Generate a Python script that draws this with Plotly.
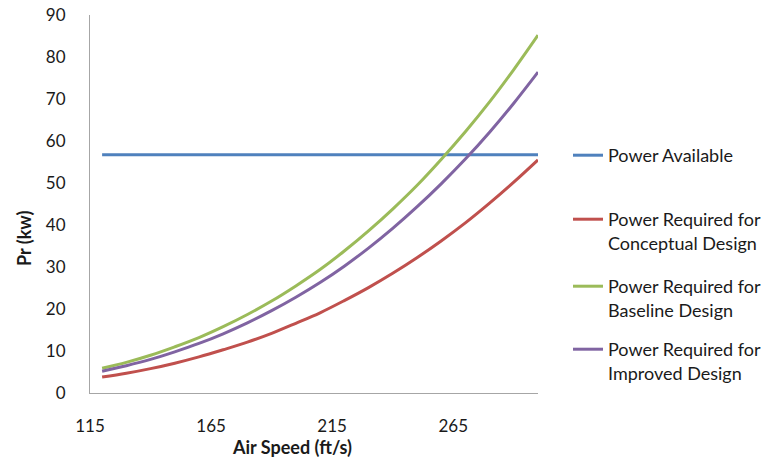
import plotly.graph_objects as go

# Data
air_speed = [120, 130, 140, 150, 160, 170, 180, 190, 200, 210,
             220, 230, 240, 250, 260, 270, 280, 290, 300]
power_available = [56.7] * len(air_speed)
pr_conceptual = [3.8, 4.7, 5.8, 7.1, 8.6, 10.3, 12.1, 14.2, 16.6, 19.1,
                 22.0, 25.1, 28.5, 32.2, 36.2, 40.5, 45.2, 50.2, 55.5]
pr_baseline = [5.9, 7.3, 9.0, 11.0, 13.2, 15.8, 18.7, 21.9, 25.5, 29.4,
               33.8, 38.6, 43.8, 49.4, 55.6, 62.2, 69.3, 77.0, 85.2]
pr_improved = [5.2, 6.5, 8.0, 9.8, 11.8, 14.1, 16.7, 19.6, 22.8, 26.3,
               30.2, 34.5, 39.2, 44.3, 49.8, 55.7, 62.1, 69.0, 76.4]

series_names = ["Power Available",
                "Power Required for<br>Conceptual Design",
                "Power Required for<br>Baseline Design",
                "Power Required for<br>Improved Design"]
series_values = [power_available, pr_conceptual, pr_baseline, pr_improved]
series_colors = ["#4F81BD", "#C0504D", "#9BBB59", "#8064A2"]
legend_ids = ["legend", "legend2", "legend3", "legend4"]

x_ticks = [115, 165, 215, 265]
y_ticks = [0, 10, 20, 30, 40, 50, 60, 70, 80, 90]

FONT = "Lato"
TXT = "#1a1a1a"

fig = go.Figure()
for name, vals, col, lg in zip(series_names, series_values, series_colors, legend_ids):
    fig.add_trace(go.Scatter(
        x=air_speed, y=vals, name=name, mode="lines",
        line=dict(color=col, width=3, shape="spline"),
        legend=lg,
    ))

# plot area: x 90..538, y 15..393
L, R, T, B = 90, 227, 15, 68
W, H = 765, 461
pw, ph = W - L - R, H - T - B

def px_x(px):
    return (px - L) / pw

def px_y(py):
    return (H - B - py) / ph

legend_common = dict(
    font=dict(family=FONT, size=18, color=TXT),
    bgcolor="rgba(0,0,0,0)", borderwidth=0,
    xanchor="left", yanchor="top", valign="top",
    itemwidth=30,
)
legend_tops = [156, 220, 287, 350]
layout_legends = {}
for lg, ly in zip(legend_ids, legend_tops):
    layout_legends[lg] = dict(legend_common, x=px_x(568), y=px_y(ly - 19))

fig.update_layout(
    width=W, height=H,
    margin=dict(l=L, r=R, t=T, b=B, autoexpand=False),
    paper_bgcolor="white", plot_bgcolor="white",
    font=dict(family=FONT, size=17, color=TXT),
    showlegend=True,
    **layout_legends,
    xaxis=dict(
        range=[115, 300], tickvals=x_ticks, ticktext=[str(v) for v in x_ticks],
        showgrid=False, zeroline=False, showline=True,
        linecolor="#A6A6A6", linewidth=1, ticks="",
        ticklabelstandoff=18,
        tickfont=dict(family=FONT, size=17, color=TXT),
    ),
    yaxis=dict(
        range=[0, 90], tickvals=y_ticks,
        showgrid=False, zeroline=False, showline=True,
        linecolor="#A6A6A6", linewidth=1, ticks="",
        ticklabelstandoff=20,
        tickfont=dict(family=FONT, size=17, color=TXT),
    ),
    annotations=[
        dict(text="<b>Air Speed (ft/s)</b>", xref="paper", yref="paper",
             x=px_x(292), y=px_y(447), xanchor="center", yanchor="middle",
             showarrow=False, font=dict(family=FONT, size=18, color=TXT)),
        dict(text="<b>Pr (kw)</b>", xref="paper", yref="paper",
             x=px_x(24), y=px_y(239), xanchor="center", yanchor="middle",
             textangle=-90, showarrow=False,
             font=dict(family=FONT, size=18, color=TXT)),
    ],
)

fig.write_html("out.html")
